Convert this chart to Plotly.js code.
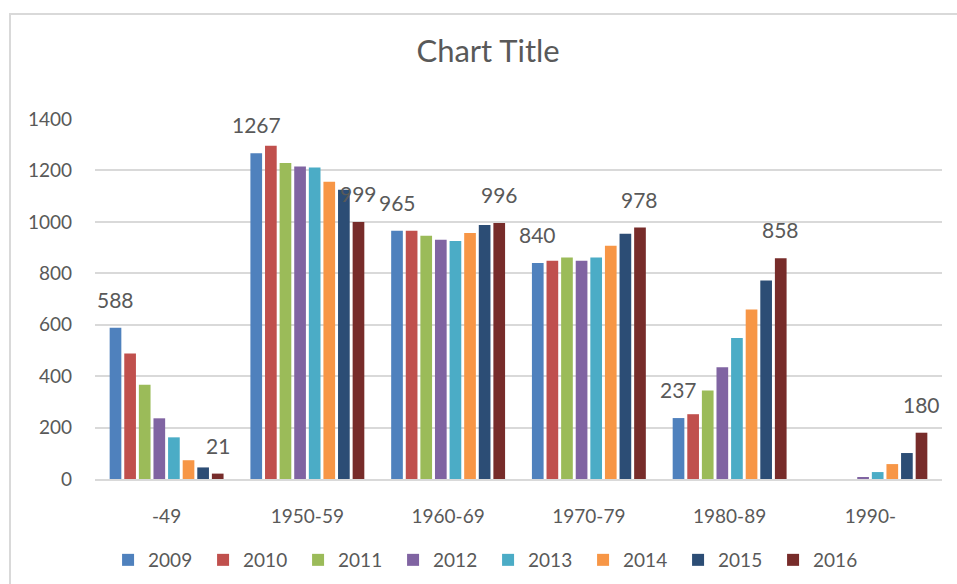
<!DOCTYPE html>
<html>
<head>
<meta charset="utf-8">
<script src="https://cdn.plot.ly/plotly-3.0.1.min.js"></script>
<style>
  html, body { margin: 0; padding: 0; background: #ffffff; }
  #frame { position: absolute; left: 9px; top: 13px; width: 960px; height: 580px;
           border-left: 2px solid #d9d9d9; border-top: 2px solid #d9d9d9; }
  #chart { position: absolute; left: 0; top: 0; width: 957px; height: 584px; }
</style>
</head>
<body>
<div id="frame"></div>
<div id="chart"></div>
<script>
const categories = ['-49', '1950-59', '1960-69', '1970-79', '1980-89', '1990-'];
const seriesNames = ['2009', '2010', '2011', '2012', '2013', '2014', '2015', '2016'];
const v2009 = [588, 1267, 965, 840, 237, null];
const v2010 = [488, 1296, 965, 849, 252, null];
const v2011 = [367, 1229, 946, 861, 344, null];
const v2012 = [236, 1215, 930, 849, 435, 4];
const v2013 = [162, 1211, 926, 861, 548, 27];
const v2014 = [73, 1156, 957, 907, 659, 58];
const v2015 = [45, 1125, 988, 954, 772, 101];
const v2016 = [21, 999, 996, 978, 858, 180];
const yTicks = [0, 200, 400, 600, 800, 1000, 1200, 1400];
const labelledSeries = [0, 7];

const allValues = [v2009, v2010, v2011, v2012, v2013, v2014, v2015, v2016];
const colors = ['#4F81BD', '#C0504D', '#9BBB59', '#8064A2', '#4BACC6', '#F79646', '#2C4D75', '#772C2A'];
const FONT = 'Lato, "Open Sans", sans-serif';
const TXT = '#595959';
const bargap = 0.17;

const traces = allValues.map((vals, i) => ({
  type: 'bar',
  name: seriesNames[i],
  x: categories,
  y: vals,
  marker: { color: colors[i] },
  hoverinfo: 'x+y+name'
}));

const annotations = [];
labelledSeries.forEach(si => {
  const n = allValues.length;
  allValues[si].forEach((val, ci) => {
    if (val === null) return;
    annotations.push({
      x: ci + (si - (n - 1) / 2) * (1 - bargap) / n,
      y: val,
      xref: 'x', yref: 'y',
      text: String(val),
      showarrow: false,
      yanchor: 'bottom',
      yshift: 14,
      font: { family: FONT, size: 21, color: TXT }
    });
  });
});

const layout = {
  width: 957, height: 584,
  paper_bgcolor: 'rgba(0,0,0,0)',
  plot_bgcolor: 'rgba(0,0,0,0)',
  margin: { l: 95, r: 15, t: 119, b: 105 },
  barmode: 'group',
  bargap: bargap,
  bargroupgap: 0.2,
  title: {
    text: 'Chart Title',
    x: 0.51, xanchor: 'center',
    y: 0.912, yanchor: 'middle',
    font: { family: FONT, size: 31, color: TXT }
  },
  font: { family: FONT, color: TXT },
  xaxis: {
    type: 'category',
    showgrid: false,
    showline: true, linecolor: '#d9d9d9', linewidth: 1.5,
    ticks: '',
    ticklabelstandoff: 19,
    tickfont: { family: FONT, size: 19, color: TXT },
    fixedrange: true
  },
  yaxis: {
    range: [0, 1400],
    tickvals: yTicks,
    showgrid: true, gridcolor: '#d9d9d9', gridwidth: 1.5,
    zeroline: false,
    showline: false,
    ticks: '',
    ticklabelstandoff: 22,
    tickfont: { family: FONT, size: 19, color: TXT },
    fixedrange: true
  },
  showlegend: true,
  legend: {
    orientation: 'h',
    x: 0.51, xanchor: 'center', xref: 'container',
    y: 1 - 560 / 584, yref: 'container', yanchor: 'middle',
    font: { family: FONT, size: 19, color: TXT },
    entrywidth: 50, entrywidthmode: 'pixels',
    traceorder: 'normal',
    itemclick: false, itemdoubleclick: false
  },
  annotations: annotations
};

Plotly.newPlot('chart', traces, layout, { displayModeBar: false, responsive: false });
</script>
</body>
</html>
